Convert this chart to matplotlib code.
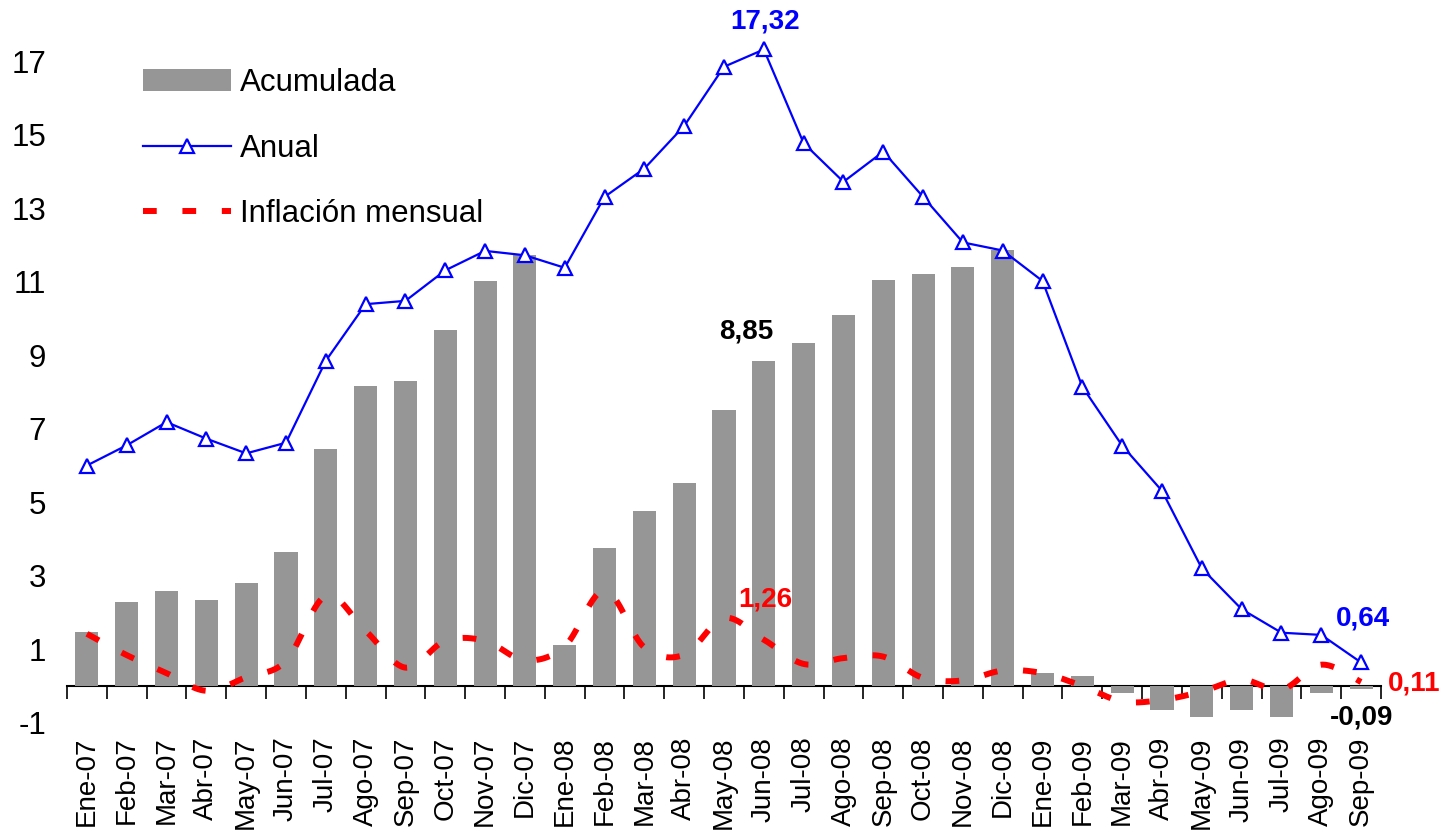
import numpy as np
import matplotlib
matplotlib.use("Agg")
import matplotlib.pyplot as plt
from matplotlib.patches import Patch
from matplotlib.lines import Line2D

months = ["Ene-07", "Feb-07", "Mar-07", "Abr-07", "May-07", "Jun-07", "Jul-07", "Ago-07",
          "Sep-07", "Oct-07", "Nov-07", "Dic-07", "Ene-08", "Feb-08", "Mar-08", "Abr-08",
          "May-08", "Jun-08", "Jul-08", "Ago-08", "Sep-08", "Oct-08", "Nov-08", "Dic-08",
          "Ene-09", "Feb-09", "Mar-09", "Abr-09", "May-09", "Jun-09", "Jul-09", "Ago-09",
          "Sep-09"]

acumulada = [1.47, 2.29, 2.58, 2.35, 2.80, 3.64, 6.44, 8.15, 8.31, 9.68, 11.03, 11.73,
             1.12, 3.76, 4.77, 5.52, 7.51, 8.85, 9.33, 10.09, 11.04, 11.21, 11.40, 11.86,
             0.35, 0.27, -0.18, -0.65, -0.83, -0.65, -0.83, -0.18, -0.09]

anual = [6.00, 6.55, 7.18, 6.73, 6.33, 6.62, 8.85, 10.39, 10.48, 11.31, 11.84, 11.72,
         11.38, 13.31, 14.08, 15.24, 16.85, 17.32, 14.77, 13.72, 14.54, 13.31, 12.07, 11.85,
         11.02, 8.14, 6.54, 5.31, 3.20, 2.09, 1.45, 1.39, 0.64]

mensual = [1.42, 0.84, 0.35, -0.13, 0.24, 0.68, 2.45, 1.50, 0.50, 1.23, 1.23, 0.70,
           1.08, 2.60, 1.05, 0.85, 1.85, 1.26, 0.60, 0.76, 0.80, 0.22, 0.15, 0.42,
           0.35, 0.00, -0.42, -0.38, -0.15, 0.17, -0.10, 0.58, 0.11]

ytick_vals = [-1, 1, 3, 5, 7, 9, 11, 13, 15, 17]
ymin, ymax = -1, 18

BAR = "#969696"
BLUE = "#0000FF"
RED = "#FF0000"
FONT = "Liberation Sans"
plt.rcParams["font.family"] = [FONT, "DejaVu Sans"]


def smooth(xs, ys, n=30):
    """Excel-like smoothed line (Catmull-Rom Bezier) through the data points."""
    xs = np.asarray(xs, float)
    ys = np.asarray(ys, float)
    px = np.concatenate([[xs[0]], xs, [xs[-1]]])
    py = np.concatenate([[ys[0]], ys, [ys[-1]]])
    ox, oy = [], []
    t = np.linspace(0, 1, n)
    for i in range(1, len(px) - 2):
        p0 = np.array([px[i], py[i]])
        p3 = np.array([px[i + 1], py[i + 1]])
        c1 = p0 + (np.array([px[i + 1], py[i + 1]]) - np.array([px[i - 1], py[i - 1]])) / 6
        c2 = p3 - (np.array([px[i + 2], py[i + 2]]) - np.array([px[i], py[i]])) / 6
        b = ((1 - t) ** 3)[:, None] * p0 + (3 * (1 - t) ** 2 * t)[:, None] * c1 \
            + (3 * (1 - t) * t ** 2)[:, None] * c2 + (t ** 3)[:, None] * p3
        if i > 1:
            b = b[1:]
        ox.extend(b[:, 0])
        oy.extend(b[:, 1])
    return np.array(ox), np.array(oy)


W, H = 1442, 836
fig = plt.figure(figsize=(W / 100, H / 100), dpi=100)
left, right = 67 / W, 1381 / W
y_of = lambda v: 686 - v * 36.75
bottom = 1 - y_of(ymin) / H
top = 1 - y_of(ymax) / H
ax = fig.add_axes([left, bottom, right - left, top - bottom])

x = np.arange(len(months))
ax.bar(x, acumulada, width=0.58, color=BAR, zorder=2)
ax.plot(x, anual, color=BLUE, lw=1.6, marker="^", ms=10, mfc="white", mec=BLUE, mew=1.6,
        zorder=4)
sx, sy = smooth(x, mensual)
ax.plot(sx, sy, color=RED, lw=4.3, dashes=(2.3, 4.3), dash_capstyle="butt", zorder=3)

ax.set_xlim(-0.5, len(months) - 0.5)
ax.set_ylim(ymin, ymax)
for s in ax.spines.values():
    s.set_visible(False)

ax.set_yticks(ytick_vals)
ax.set_yticklabels([str(v) for v in ytick_vals])
ax.tick_params(axis="y", length=0, pad=15, labelsize=22.5)
ax.set_xticks(x)
ax.set_xticklabels(months, rotation=90)
ax.tick_params(axis="x", length=0, pad=10, labelsize=20)

# zero line with category-boundary ticks
sec = ax.secondary_xaxis((0 - ymin) / (ymax - ymin))
sec.set_xticks(np.arange(-0.5, len(months), 1.0))
sec.tick_params(axis="x", length=9, width=1.2, direction="out", labelbottom=False,
                color="black")
sec.spines["bottom"].set_linewidth(1.5)

# value labels
LS = 20
fmt = lambda v: f"{v:.2f}".replace(".", ",")
i_max = int(np.argmax(anual))
ax.annotate(fmt(anual[i_max]), (x[i_max], anual[i_max]),
            xytext=(1, 20), textcoords="offset points", ha="center", va="center",
            color=BLUE, fontsize=LS, fontweight="bold")
i_j = months.index("Jun-08")
ax.annotate(fmt(acumulada[i_j]), (x[i_j], acumulada[i_j]),
            xytext=(-13, 21), textcoords="offset points", ha="center", va="center",
            color="black", fontsize=LS, fontweight="bold")
ax.annotate(fmt(mensual[i_j]), (x[i_j], mensual[i_j]),
            xytext=(1, 29), textcoords="offset points", ha="center", va="center",
            color=RED, fontsize=LS, fontweight="bold")
n = len(months) - 1
ax.annotate(fmt(anual[n]), (x[n], anual[n]),
            xytext=(1, 32), textcoords="offset points", ha="center", va="center",
            color=BLUE, fontsize=LS, fontweight="bold")
ax.annotate(fmt(mensual[n]), (x[n], mensual[n]),
            xytext=(38, -1), textcoords="offset points", ha="center", va="center",
            color=RED, fontsize=LS, fontweight="bold", annotation_clip=False)
ax.annotate(fmt(acumulada[n]), (x[n], acumulada[n]),
            xytext=(0, -20), textcoords="offset points", ha="center", va="center",
            color="black", fontsize=LS, fontweight="bold")

handles = [Patch(facecolor=BAR, edgecolor="none"),
           Line2D([], [], color=BLUE, lw=1.6, marker="^", ms=10, mfc="white", mec=BLUE,
                  mew=1.6),
           Line2D([], [], color=RED, lw=4.3, dashes=(2.3, 4.3), dash_capstyle="butt")]
fig.legend(handles, ["Acumulada", "Anual", "Inflación mensual"], loc="upper left",
           bbox_to_anchor=(143 / W, 1 - 68 / H), frameon=False, fontsize=22.5,
           handlelength=2.8, handletextpad=0.3, labelspacing=1.14, borderpad=0,
           borderaxespad=0, markerfirst=True)

fig.savefig("out.png", dpi=100)
